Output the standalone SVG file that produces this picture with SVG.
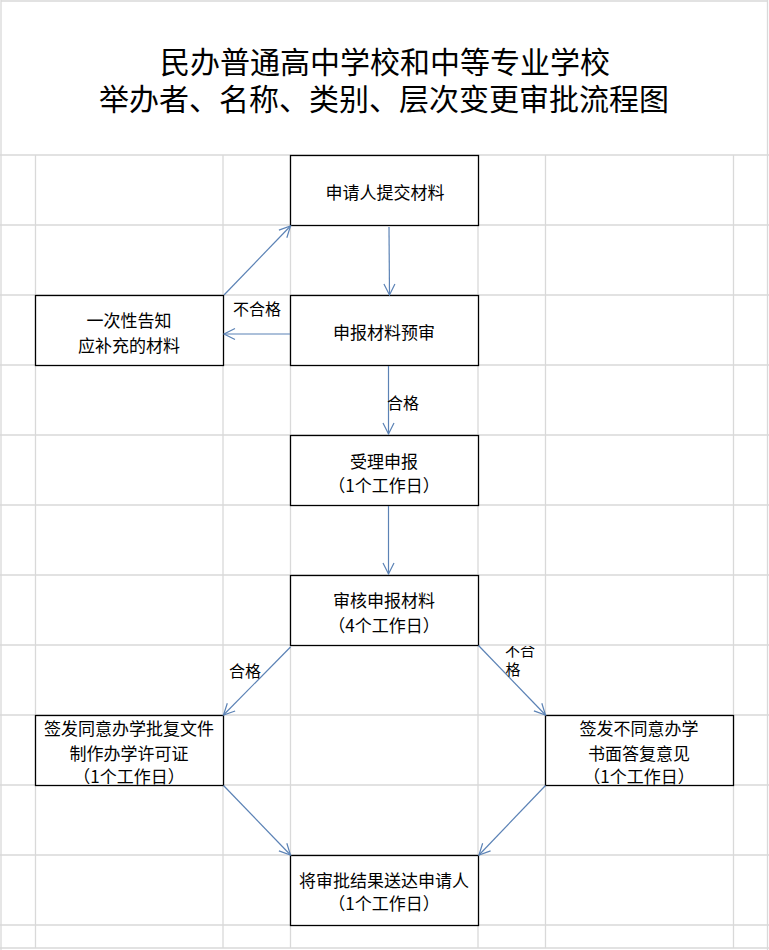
<svg xmlns="http://www.w3.org/2000/svg" width="769" height="950" viewBox="0 0 769 950">
<style>
.grid line{stroke:#d9d9d9;stroke-width:1.3}
.box{fill:#fff;stroke:#000;stroke-width:1.3}
.t{font-family:"Noto Sans CJK SC","Noto Sans CJK TC",sans-serif;font-size:17px;fill:#000;text-anchor:middle}
.title{font-family:"Noto Sans CJK SC","Noto Sans CJK TC",sans-serif;font-size:30px;fill:#000;text-anchor:middle}
.lbl{font-family:"Noto Sans CJK SC","Noto Sans CJK TC",sans-serif;font-size:16px;fill:#000;text-anchor:middle}
.c line{stroke:#5b82b5;stroke-width:1.2;marker-end:url(#ah)}
</style>
<defs>
<marker id="ah" markerUnits="userSpaceOnUse" markerWidth="14" markerHeight="14" viewBox="-12 -7 14 14" refX="0" refY="0" orient="auto">
<path d="M-11,-5.5 L0,0 L-11,5.5" fill="none" stroke="#5b82b5" stroke-width="1.2"/>
</marker>
<clipPath id="clipR"><rect x="480" y="646" width="80" height="60"/></clipPath>
</defs>
<rect x="0" y="0" width="769" height="950" fill="#fff"/>
<g class="grid">
<line x1="1" y1="1" x2="768" y2="1"/>
<line x1="1" y1="0" x2="1" y2="950"/>
<line x1="767.5" y1="0" x2="767.5" y2="950"/>
<line x1="35.5" y1="155" x2="35.5" y2="948"/>
<line x1="223" y1="155" x2="223" y2="948"/>
<line x1="290.5" y1="155" x2="290.5" y2="948"/>
<line x1="478" y1="155" x2="478" y2="948"/>
<line x1="545.5" y1="155" x2="545.5" y2="948"/>
<line x1="733.5" y1="155" x2="733.5" y2="948"/>
<line x1="0" y1="155" x2="769" y2="155"/>
<line x1="0" y1="225" x2="769" y2="225"/>
<line x1="0" y1="295" x2="769" y2="295"/>
<line x1="0" y1="365" x2="769" y2="365"/>
<line x1="0" y1="435" x2="769" y2="435"/>
<line x1="0" y1="505" x2="769" y2="505"/>
<line x1="0" y1="575" x2="769" y2="575"/>
<line x1="0" y1="645" x2="769" y2="645"/>
<line x1="0" y1="715" x2="769" y2="715"/>
<line x1="0" y1="785" x2="769" y2="785"/>
<line x1="0" y1="855" x2="769" y2="855"/>
<line x1="0" y1="925" x2="769" y2="925"/>
<line x1="0" y1="948" x2="769" y2="948"/>
</g>
<g id="title">
<text class="title"><tspan x="385" y="73">民办普通高中学校和中等专业学校</tspan><tspan x="384" y="110">举办者、名称、类别、层次变更审批流程图</tspan></text>
</g>
<g id="n1"><rect class="box" x="290.5" y="155.5" width="188" height="70"/>
<text class="t" x="385" y="199">申请人提交材料</text></g>
<g id="n2"><rect class="box" x="290.5" y="295.5" width="188" height="70"/>
<text class="t" x="384" y="339">申报材料预审</text></g>
<g id="n3"><rect class="box" x="35.5" y="295.5" width="188" height="70"/>
<text class="t" x="129" y="327">一次性告知</text>
<text class="t" x="129" y="352">应补充的材料</text></g>
<g id="n4"><rect class="box" x="290.5" y="435.5" width="188" height="70"/>
<text class="t" x="384" y="468">受理申报</text>
<text class="t" x="384" y="492">（1个工作日）</text></g>
<g id="n5"><rect class="box" x="290.5" y="575.5" width="188" height="70"/>
<text class="t" x="384" y="607">审核申报材料</text>
<text class="t" x="384" y="632">（4个工作日）</text></g>
<g id="n6"><rect class="box" x="35.5" y="715.5" width="188" height="70"/>
<text class="t" x="129" y="735">签发同意办学批复文件</text>
<text class="t" x="129" y="760">制作办学许可证</text>
<text class="t" x="129" y="783">（1个工作日）</text></g>
<g id="n7"><rect class="box" x="545.5" y="715.5" width="188" height="70"/>
<text class="t" x="639" y="735">签发不同意办学</text>
<text class="t" x="639" y="760">书面答复意见</text>
<text class="t" x="639" y="783">（1个工作日）</text></g>
<g id="n8"><rect class="box" x="290.5" y="855.5" width="188" height="70"/>
<text class="t" x="384" y="887">将审批结果送达申请人</text>
<text class="t" x="384" y="910">（1个工作日）</text></g>
<g id="connectors" class="c">
<line x1="389" y1="227" x2="389.5" y2="295"/>
<line x1="290" y1="334" x2="224" y2="334"/>
<line x1="224" y1="295" x2="290.5" y2="226"/>
<line x1="388.5" y1="366" x2="388.5" y2="434"/>
<line x1="388.5" y1="506" x2="388.5" y2="574"/>
<line x1="290.5" y1="647" x2="223.5" y2="715"/>
<line x1="478.5" y1="645.5" x2="545.5" y2="715"/>
<line x1="223.5" y1="785.5" x2="290.5" y2="855"/>
<line x1="545.5" y1="785.5" x2="479" y2="855"/>
</g>
<g id="labels">
<text class="lbl" x="257" y="315">不合格</text>
<text class="lbl" x="403" y="409">合格</text>
<text class="lbl" x="245" y="677">合格</text>
<g clip-path="url(#clipR)">
<text class="lbl" x="520" y="656" style="font-size:15px">不合</text>
<text class="lbl" x="513" y="675" style="font-size:15px">格</text>
</g>
</g>
</svg>
